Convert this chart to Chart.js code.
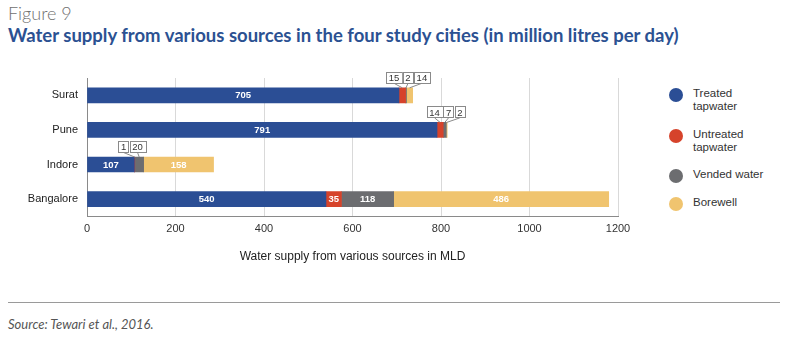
<!DOCTYPE html>
<html>
<head>
<meta charset="utf-8">
<script src="https://cdn.jsdelivr.net/npm/chart.js@4"></script>
<style>
  body { margin: 0; width: 795px; height: 340px; background: #fff; position: relative; overflow: hidden; font-family: Lato, sans-serif; }
  #fig { position: absolute; left: 8px; top: 2px; font-size: 18px; font-weight: 300; color: #6f6f6f; }
  #title { position: absolute; left: 8px; top: 24px; font-size: 18.5px; font-weight: 700; color: #2b5192; white-space: nowrap; }
  #wrap { position: absolute; left: 0; top: 60px; }
  #legend { position: absolute; left: 668px; top: 0; font-family: "Liberation Sans", Arial, sans-serif; font-size: 11.5px; color: #333; }
  .item { position: absolute; left: 0; white-space: pre-line; line-height: 13px; }
  .dot { position: absolute; left: 1px; width: 14px; height: 14px; border-radius: 50%; }
  .lab { position: absolute; left: 25px; white-space: pre; }
  #rule { position: absolute; left: 8px; top: 302px; width: 772px; height: 1px; background: #9a9a9a; }
  #src { position: absolute; left: 8px; top: 316px; font-size: 13px; font-style: italic; color: #555; }
</style>
</head>
<body>
<div id="fig">Figure 9</div>
<div id="title">Water supply from various sources in the four study cities (in million litres per day)</div>
<div id="wrap"><canvas id="myChart" width="640" height="210"></canvas></div>
<div id="legend"></div>
<div id="rule"></div>
<div id="src">Source: Tewari et al., 2016.</div>
<script>
const cities = ['Surat', 'Pune', 'Indore', 'Bangalore'];
const treated = [705, 791, 107, 540];
const untreated = [15, 14, 1, 35];
const vended = [2, 7, 20, 118];
const borewell = [14, 2, 158, 486];
const xTicks = [0, 200, 400, 600, 800, 1000, 1200];

const seriesNames = ['Treated\ntapwater', 'Untreated\ntapwater', 'Vended water', 'Borewell'];
const seriesColors = ['#2b4e95', '#d6432b', '#6c6d70', '#f0c46f'];
const seriesData = [treated, untreated, vended, borewell];

// legend is plain html, chart.js legend cant do the two line labels nicely
const legendTops = [88, 129, 169, 197];
const legend = document.getElementById('legend');
seriesNames.forEach((name, i) => {
  let item = document.createElement('div');
  item.className = 'item';
  item.style.top = legendTops[i] + 'px';
  item.innerHTML = `<span class="dot" style="background:${seriesColors[i]};top:0px"></span><span class="lab" style="top:-1px">${name}</span>`;
  legend.appendChild(item);
});

const segmentLabels = {
  id: 'segmentLabels',
  afterDatasetsDraw(chart) {
    const ctx = chart.ctx;
    ctx.save();
    cities.forEach((c, i) => {
      let small = [];
      chart.data.datasets.forEach((ds, d) => {
        const bar = chart.getDatasetMeta(d).data[i];
        const w = Math.abs(bar.x - bar.base);
        const cx = (bar.x + bar.base) / 2;
        if (w < 12) {
          small.push({ v: ds.data[i], cx: cx, top: bar.y - bar.height / 2 });
        } else {
          ctx.fillStyle = '#fff';
          ctx.font = 'bold 9.5px "Liberation Sans", Arial, sans-serif';
          ctx.textAlign = 'center';
          ctx.textBaseline = 'middle';
          ctx.fillText(String(ds.data[i]), cx, bar.y + 0.5);
        }
      });
      if (small.length === 0) return;

      // little boxed callouts above the bar for the thin segments
      ctx.font = '9.5px "Liberation Sans", Arial, sans-serif';
      const boxes = small.map(s => ({ ...s, w: ctx.measureText(String(s.v)).width + 5 }));
      const total = boxes.reduce((a, b) => a + b.w + 1, -1);
      const mid = boxes.reduce((a, b) => a + b.cx, 0) / boxes.length;
      let left = mid - total / 2 + (boxes.length === 2 ? -5 : 2);
      const boxH = 11;
      const boxBottom = boxes[0].top - 5;
      boxes.forEach(b => {
        ctx.fillStyle = '#fff';
        ctx.fillRect(left, boxBottom - boxH, b.w, boxH);
        ctx.strokeStyle = '#8a8a8a';
        ctx.lineWidth = 1;
        ctx.strokeRect(Math.round(left) + 0.5, Math.round(boxBottom - boxH) + 0.5, Math.round(b.w), boxH);
        ctx.fillStyle = '#333';
        ctx.textAlign = 'center';
        ctx.textBaseline = 'middle';
        ctx.fillText(String(b.v), left + b.w / 2, boxBottom - boxH / 2 + 1);
        ctx.beginPath();
        ctx.moveTo(left + b.w / 2, boxBottom + 0.5);
        ctx.lineTo(b.cx, b.top);
        ctx.stroke();
        left += b.w + 1;
      });
    });
    ctx.restore();
  }
};

let ctx = document.getElementById('myChart').getContext('2d');
let chart = new Chart(ctx, {
  type: 'bar',
  data: {
    labels: cities,
    datasets: seriesData.map((data, i) => ({
      label: seriesNames[i].replace('\n', ' '),
      data: data,
      backgroundColor: seriesColors[i],
      barThickness: 15,
      borderWidth: 0,
    }))
  },
  options: {
    indexAxis: 'y',
    responsive: false,
    animation: false,
    devicePixelRatio: 1,
    layout: { padding: { left: 0, right: 22, top: 18, bottom: 6 } },
    plugins: {
      legend: { display: false },
      tooltip: { enabled: false },
    },
    scales: {
      x: {
        stacked: true,
        min: 0,
        max: 1200,
        afterBuildTicks: s => { s.ticks = xTicks.map(v => ({ value: v })); },
        grid: { color: '#d9d9d9', drawTicks: false },
        border: { color: '#8a8a8a' },
        ticks: {
          padding: 6,
          color: '#333',
          font: { family: '"Liberation Sans", Arial, sans-serif', size: 11 },
          callback: v => String(v),
        },
        title: {
          display: true,
          text: 'Water supply from various sources in MLD',
          color: '#222',
          font: { family: '"Liberation Sans", Arial, sans-serif', size: 12 },
          padding: { top: 8, bottom: 0 },
        },
      },
      y: {
        stacked: true,
        afterFit: s => { s.width = 87; },
        grid: { display: false, drawTicks: false },
        border: { color: '#8a8a8a' },
        ticks: { padding: 9, color: '#222', font: { family: '"Liberation Sans", Arial, sans-serif', size: 11 } },
      },
    },
  },
  plugins: [segmentLabels],
});
</script>
</body>
</html>
